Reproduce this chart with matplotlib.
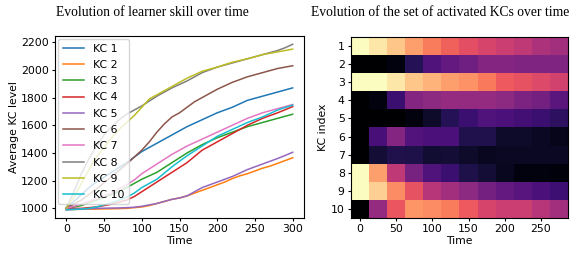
import matplotlib
matplotlib.use("Agg")
import matplotlib.pyplot as plt
import numpy as np

# ---- data: line chart ----
time = [0, 10, 20, 30, 40, 50, 60, 70, 80, 90, 100, 110, 120, 130, 140, 150, 160, 170,
        180, 190, 200, 210, 220, 230, 240, 250, 260, 270, 280, 290, 300]

kc1 = [1000, 1050, 1100, 1150, 1190, 1225, 1260, 1295, 1330, 1370, 1410, 1440, 1470, 1500, 1530, 1560,
       1590, 1615, 1640, 1665, 1690, 1710, 1730, 1755, 1780, 1795, 1810, 1825, 1840, 1855, 1870]
kc2 = [990, 992, 993, 994, 995, 996, 997, 998, 1000, 1005, 1010, 1020, 1035, 1050, 1065, 1075,
       1090, 1110, 1130, 1150, 1170, 1190, 1215, 1235, 1250, 1270, 1290, 1305, 1325, 1345, 1365]
kc3 = [1000, 1010, 1020, 1040, 1060, 1080, 1100, 1125, 1150, 1180, 1210, 1235, 1260, 1295, 1330, 1365,
       1400, 1430, 1460, 1485, 1510, 1530, 1550, 1570, 1590, 1605, 1620, 1635, 1650, 1665, 1680]
kc4 = [1000, 1000, 1000, 1005, 1010, 1020, 1030, 1045, 1060, 1085, 1120, 1155, 1190, 1225, 1260, 1295,
       1330, 1375, 1420, 1450, 1480, 1510, 1540, 1570, 1600, 1625, 1650, 1670, 1690, 1712, 1735]
kc5 = [990, 993, 995, 997, 1000, 1001, 1002, 1003, 1005, 1008, 1015, 1025, 1035, 1050, 1065, 1075,
       1090, 1120, 1150, 1170, 1190, 1210, 1230, 1255, 1280, 1300, 1320, 1340, 1360, 1382, 1405]
kc6 = [1000, 1030, 1060, 1100, 1140, 1185, 1230, 1275, 1320, 1370, 1420, 1480, 1550, 1610, 1660, 1690,
       1730, 1770, 1800, 1830, 1860, 1885, 1910, 1930, 1950, 1965, 1980, 1995, 2010, 2020, 2030]
kc7 = [1000, 1015, 1030, 1050, 1070, 1090, 1110, 1140, 1170, 1205, 1250, 1285, 1320, 1355, 1390, 1420,
       1450, 1475, 1500, 1525, 1550, 1575, 1600, 1625, 1650, 1670, 1690, 1705, 1720, 1735, 1750]
kc8 = [1000, 1120, 1250, 1360, 1450, 1530, 1590, 1640, 1680, 1710, 1740, 1775, 1810, 1840, 1870, 1895,
       1920, 1950, 1980, 2000, 2020, 2035, 2050, 2065, 2080, 2095, 2110, 2125, 2140, 2160, 2185]
kc9 = [1000, 1080, 1180, 1280, 1370, 1440, 1510, 1570, 1620, 1670, 1730, 1790, 1820, 1850, 1880, 1910,
       1940, 1965, 1990, 2005, 2020, 2038, 2055, 2068, 2080, 2095, 2110, 2120, 2130, 2140, 2150]
kc10 = [990, 992, 995, 1000, 1010, 1025, 1040, 1060, 1080, 1110, 1150, 1180, 1210, 1255, 1300, 1340,
        1380, 1415, 1450, 1485, 1520, 1545, 1570, 1595, 1620, 1640, 1660, 1685, 1710, 1728, 1745]

series = [kc1, kc2, kc3, kc4, kc5, kc6, kc7, kc8, kc9, kc10]
labels = ["KC 1", "KC 2", "KC 3", "KC 4", "KC 5", "KC 6", "KC 7", "KC 8", "KC 9", "KC 10"]

# ---- data: heatmap (rows = KC 1..10, columns = time bins) ----
heat_times = [0, 25, 50, 75, 100, 125, 150, 175, 200, 225, 250, 275]
kc_index = [1, 2, 3, 4, 5, 6, 7, 8, 9, 10]
heat = [
    [1.00, 0.95, 0.88, 0.80, 0.73, 0.67, 0.62, 0.58, 0.55, 0.52, 0.48, 0.45],
    [0.00, 0.00, 0.03, 0.15, 0.25, 0.30, 0.33, 0.38, 0.38, 0.37, 0.37, 0.37],
    [1.00, 1.00, 0.95, 0.88, 0.84, 0.80, 0.77, 0.72, 0.65, 0.63, 0.60, 0.57],
    [0.00, 0.03, 0.20, 0.38, 0.40, 0.42, 0.42, 0.42, 0.40, 0.36, 0.34, 0.28],
    [0.00, 0.00, 0.00, 0.03, 0.08, 0.15, 0.20, 0.25, 0.24, 0.22, 0.20, 0.17],
    [0.00, 0.23, 0.38, 0.26, 0.24, 0.24, 0.14, 0.14, 0.08, 0.08, 0.07, 0.05],
    [0.00, 0.10, 0.14, 0.13, 0.09, 0.10, 0.08, 0.06, 0.07, 0.07, 0.07, 0.07],
    [1.00, 0.80, 0.52, 0.35, 0.25, 0.20, 0.13, 0.10, 0.06, 0.03, 0.03, 0.02],
    [1.00, 0.90, 0.76, 0.63, 0.50, 0.45, 0.40, 0.34, 0.30, 0.27, 0.24, 0.21],
    [0.00, 0.42, 0.64, 0.78, 0.76, 0.73, 0.65, 0.58, 0.55, 0.55, 0.50, 0.45],
]

W, H = 574, 254
FS = 7.8
fig = plt.figure(figsize=(W / 100, H / 100), dpi=100)

ax1 = fig.add_axes([55 / W, 1 - 218 / H, (304 - 55) / W, (218 - 36) / H])
for s, lab in zip(series, labels):
    ax1.plot(time, s, lw=1.1, label=lab)
ax1.set_xlabel("Time", fontsize=FS, labelpad=1)
ax1.set_ylabel("Average KC level", fontsize=FS, labelpad=1)
ax1.set_xticks([0, 50, 100, 150, 200, 250, 300])
ax1.set_yticks([1000, 1200, 1400, 1600, 1800, 2000, 2200])
ax1.tick_params(labelsize=FS, length=2.5, pad=2)
ax1.legend(loc="upper left", fontsize=FS, handlelength=2.0, labelspacing=0.58,
           borderaxespad=0.3, handletextpad=0.8, borderpad=0.4)

ax2 = fig.add_axes([351 / W, 1 - 218 / H, (568 - 351) / W, (218 - 37) / H])
step = heat_times[1] - heat_times[0]
ax2.imshow(np.array(heat), cmap="magma", aspect="auto", vmin=0, vmax=1,
           interpolation="nearest",
           extent=[heat_times[0] - step / 2, heat_times[-1] + step / 2,
                   kc_index[-1] + 0.5, kc_index[0] - 0.5])
ax2.set_yticks(kc_index)
ax2.set_xticks([0, 50, 100, 150, 200, 250])
ax2.set_xlabel("Time", fontsize=FS, labelpad=1)
ax2.set_ylabel("KC index", fontsize=FS, labelpad=2)
ax2.tick_params(labelsize=FS, length=2.5, pad=2)

fig.text(152 / W, 1 - 13 / H, "Evolution of learner skill over time",
         family="Liberation Serif", fontsize=9.8, ha="center", va="center")
fig.text(440 / W, 1 - 13 / H, "Evolution of the set of activated KCs over time",
         family="Liberation Serif", fontsize=9.8, ha="center", va="center")

fig.savefig("out.png", dpi=100)
